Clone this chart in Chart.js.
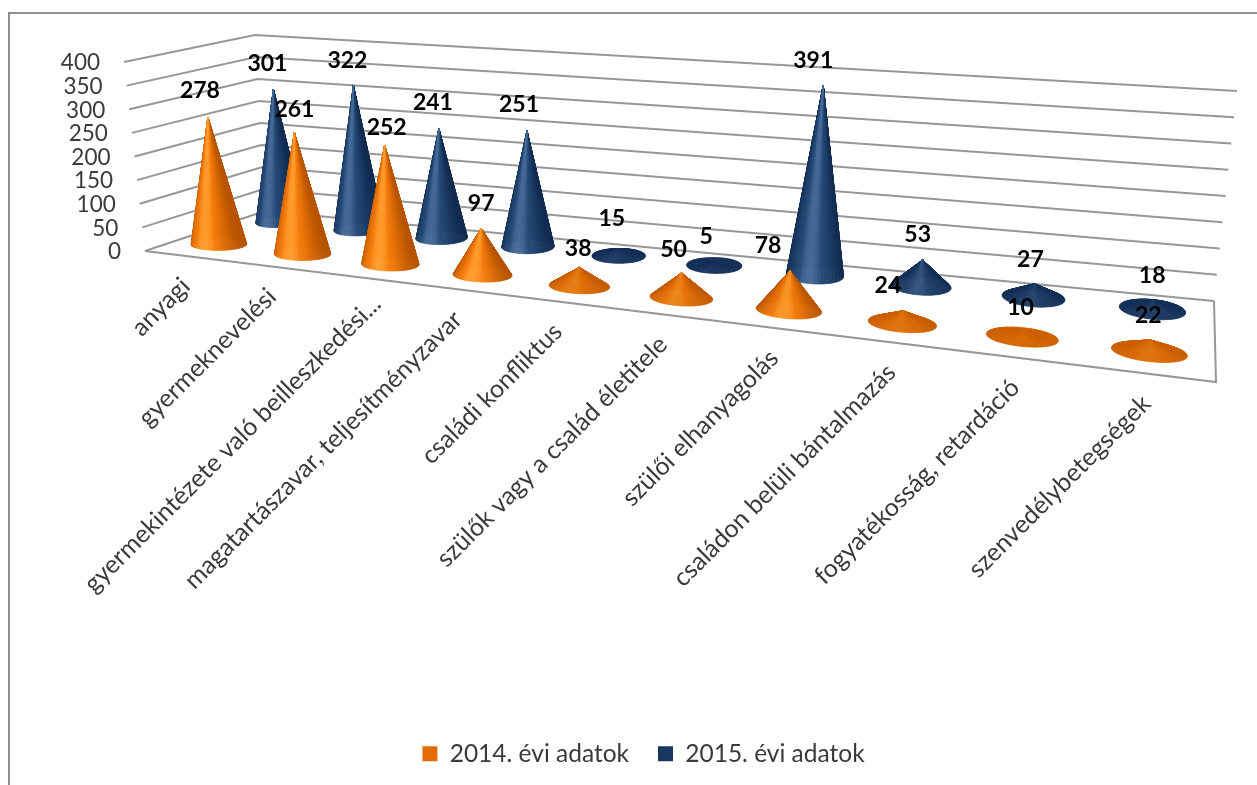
<!DOCTYPE html>
<html lang="hu">
<head>
<meta charset="utf-8">
<title>2014-2015. évi adatok</title>
<script src="https://cdn.jsdelivr.net/npm/chart.js@4"></script>
<style>
    html, body { margin: 0; padding: 0; background: #fff; overflow: hidden; }
    #frame { position: absolute; left: 8px; top: 12px; right: 0; bottom: 0; border-top: 2px solid #8f8f8f; border-left: 2px solid #8f8f8f; pointer-events: none; }
    canvas { display: block; }
</style>
</head>
<body>
<canvas id="coneChart" width="1257" height="785"></canvas>
<div id="frame"></div>
<script>
const categories = [
    "anyagi",
    "gyermeknevelési",
    "gyermekintézete való beilleszkedési...",
    "magatartászavar, teljesítményzavar",
    "családi konfliktus",
    "szülők vagy a család életitele",
    "szülői elhanyagolás",
    "családon belüli bántalmazás",
    "fogyatékosság, retardáció",
    "szenvedélybetegségek"
];
const values2014 = [278, 261, 252, 97, 38, 50, 78, 24, 10, 22];
const values2015 = [301, 322, 241, 251, 15, 5, 391, 53, 27, 18];
const seriesNames = ["2014. évi adatok", "2015. évi adatok"];
const axisMax = 400;
const axisStep = 50;

// the fake 3D box: floor and top of the walls, as seen on screen
const floorQuad = { fl: [145, 251], fr: [1216, 382], br: [1214, 301], bl: [265, 211] };
const topQuad = { fl: [124, 62], fr: [1241, 157], br: [1237, 91], bl: [255, 35] };
const perspective = -0.23;
const depths = [0.28, 0.82];
const coneRadiusX = 0.03;
const coneRadiusDepth = 0.125;
const coneHeightScale = 0.98;

const palette = [
    { dark: [184, 84, 0], mid: [246, 124, 12], bright: [255, 156, 44], flat: [208, 98, 0] },
    { dark: [18, 44, 82], mid: [38, 76, 120], bright: [70, 106, 150], flat: [21, 48, 88] }
];

// label shift from the cone tip, [dx, dy]
const labelShift = [
    [[-8, -27], [0, -23], [2, -18], [0, -25], [-1, -19], [-8, -23], [-22, -25], [-15, -25], [-2, -24], [-2, -24]],
    [[-6, -26], [-6, -25], [-6, -26], [-8, -26], [-7, -30], [-8, -26], [-10, -25], [-5, -25], [-4, -24], [-1, -24]]
];
// the long clipped label sits a bit further along the edge
const categoryShift = [[0, 0], [0, 0], [14, -4], [0, 0], [0, 0], [0, 0], [0, 0], [0, 0], [0, 0], [0, 0]];

function lerp(a, b, k) { return a + (b - a) * k; }
function lerpPt(a, b, k) { return [lerp(a[0], b[0], k), lerp(a[1], b[1], k)]; }
function warp(u) { return u * (1 + perspective) / (1 + perspective * u); }

function onQuad(q, t, v) {
    return lerpPt(lerpPt(q.fl, q.fr, t), lerpPt(q.bl, q.br, t), v);
}

function project(u, v, frac) {
    let t = warp(u);
    return lerpPt(onQuad(floorQuad, t, v), onQuad(topQuad, t, v), frac);
}

function mixColor(a, b, k) {
    return [lerp(a[0], b[0], k), lerp(a[1], b[1], k), lerp(a[2], b[2], k)];
}

function coneColor(colors, n, frac) {
    let shade;
    if (n <= 0) shade = colors.dark;
    else if (n < 0.93) shade = mixColor(colors.dark, colors.mid, Math.pow(n / 0.93, 2.2));
    else shade = mixColor(colors.mid, colors.bright, (n - 0.93) / 0.07);
    let c = mixColor(colors.flat, shade, Math.min(1, frac / 0.22));
    return "rgb(" + c.map(Math.round).join(",") + ")";
}

function drawCone(ctx, u, v, frac, colors) {
    let tip = project(u, v, frac * coneHeightScale);
    let radius = coneRadiusX * (1 - 0.12 * v);
    let slices = [];
    let count = 96;
    for (let k = 0; k < count; k++) {
        let a0 = k / count * Math.PI * 2;
        let a1 = (k + 1) / count * Math.PI * 2;
        let mid = (a0 + a1) / 2;
        slices.push({
            p0: project(u + radius * Math.cos(a0), v + coneRadiusDepth * Math.sin(a0), 0),
            p1: project(u + radius * Math.cos(a1), v + coneRadiusDepth * Math.sin(a1), 0),
            n: -Math.sin(mid)
        });
    }
    // back of the cone first, front over it
    slices.sort((a, b) => a.n - b.n);
    slices.forEach(s => {
        let color = coneColor(colors, s.n, frac);
        ctx.fillStyle = color;
        ctx.strokeStyle = color;
        ctx.lineWidth = 0.7;
        ctx.beginPath();
        ctx.moveTo(tip[0], tip[1]);
        ctx.lineTo(s.p0[0], s.p0[1]);
        ctx.lineTo(s.p1[0], s.p1[1]);
        ctx.closePath();
        ctx.fill();
        ctx.stroke();
    });
    return tip;
}

const cone3d = {
    id: "cone3d",
    beforeDatasetsDraw(chart) {
        let ctx = chart.ctx;
        let y = chart.scales.y;
        let yFrac = value => (y.bottom - y.getPixelForValue(value)) / y.height;

        ctx.save();
        ctx.strokeStyle = "#979797";
        ctx.lineWidth = 2;
        y.ticks.forEach(tick => {
            let f = yFrac(tick.value);
            let a = project(0, 0, f), b = project(0, 1, f), c = project(1, 1, f);
            ctx.beginPath();
            ctx.moveTo(a[0], a[1]);
            ctx.lineTo(b[0], b[1]);
            ctx.lineTo(c[0], c[1]);
            ctx.stroke();

            ctx.fillStyle = "#3a3a3a";
            ctx.font = "22.5px Lato";
            ctx.textAlign = "right";
            ctx.textBaseline = "middle";
            ctx.fillText(String(tick.value), a[0] - 24, a[1] + 1);
        });

        // floor front and right edge
        let fl = project(0, 0, 0), fr = project(1, 0, 0), br = project(1, 1, 0);
        ctx.beginPath();
        ctx.moveTo(fl[0], fl[1]);
        ctx.lineTo(fr[0], fr[1]);
        ctx.lineTo(br[0], br[1]);
        ctx.stroke();

        // category labels hang off the front edge
        let x = chart.scales.x;
        ctx.fillStyle = "#3a3a3a";
        ctx.font = "25px Lato";
        ctx.textAlign = "right";
        ctx.textBaseline = "middle";
        categories.forEach((name, i) => {
            let u = (x.getPixelForValue(i) - chart.chartArea.left) / chart.chartArea.width;
            let p = project(u, 0, 0);
            ctx.save();
            ctx.translate(p[0] - 1 + categoryShift[i][0], p[1] + 26 + categoryShift[i][1]);
            ctx.rotate(-Math.PI / 4);
            ctx.fillText(name, 0, 0);
            ctx.restore();
        });
        ctx.restore();
    },
    beforeDatasetDraw() {
        // the bars only carry the geometry, the cones are painted afterwards
        return false;
    },
    afterDatasetsDraw(chart) {
        let ctx = chart.ctx;
        let area = chart.chartArea;
        let y = chart.scales.y;
        let tips = [[], []];

        ctx.save();
        [1, 0].forEach(ds => {
            chart.getDatasetMeta(ds).data.forEach((bar, i) => {
                let u = (bar.x - area.left) / area.width;
                let frac = (bar.base - bar.y) / y.height;
                tips[ds][i] = drawCone(ctx, u, depths[ds], frac, palette[ds]);
            });
        });

        ctx.fillStyle = "#000";
        ctx.font = "bold 23px Lato";
        ctx.textAlign = "center";
        ctx.textBaseline = "middle";
        [1, 0].forEach(ds => {
            chart.data.datasets[ds].data.forEach((value, i) => {
                let shift = labelShift[ds][i];
                ctx.fillText(String(value), tips[ds][i][0] + shift[0], tips[ds][i][1] + shift[1]);
            });
        });
        ctx.restore();
    }
};

new Chart(document.getElementById("coneChart").getContext("2d"), {
    type: "bar",
    data: {
        labels: categories,
        datasets: [
            { label: seriesNames[0], data: values2014, backgroundColor: "#e36c09", grouped: false },
            { label: seriesNames[1], data: values2015, backgroundColor: "#17375e", grouped: false }
        ]
    },
    options: {
        responsive: false,
        devicePixelRatio: 1,
        animation: false,
        layout: { padding: { left: 30, right: 0, top: 20, bottom: 9 } },
        scales: {
            x: { display: false },
            y: { display: false, min: 0, max: axisMax, ticks: { stepSize: axisStep } }
        },
        plugins: {
            tooltip: { enabled: false },
            legend: {
                position: "bottom",
                labels: {
                    boxWidth: 15,
                    boxHeight: 15,
                    padding: 29,
                    color: "#3a3a3a",
                    font: { family: "Lato", size: 24.5 }
                }
            }
        }
    },
    plugins: [cone3d]
});
</script>
</body>
</html>
